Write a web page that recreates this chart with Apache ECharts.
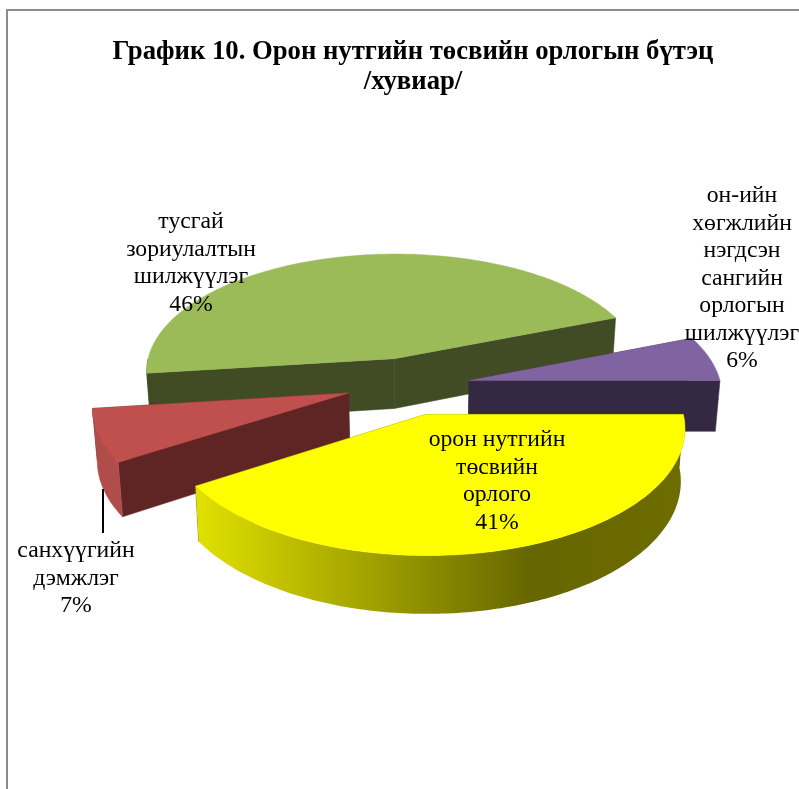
<!DOCTYPE html>
<html>
<head>
<meta charset="utf-8">
<style>html,body{margin:0;padding:0;background:#fff}#c{width:799px;height:789px}</style>
<script src="https://cdn.jsdelivr.net/npm/echarts@6/dist/echarts.min.js"></script>
</head>
<body>
<div id="c"></div>
<script>
// Data
const titleText = 'График 10. Орон нутгийн төсвийн орлогын бүтэц\n/хувиар/';
const categories = [
  'орон нутгийн\nтөсвийн\nорлого',
  'санхүүгийн\nдэмжлэг',
  'тусгай\nзориулалтын\nшилжүүлэг',
  'он-ийн\nхөгжлийн\nнэгдсэн\nсангийн\nорлогын\nшилжүүлэг'
];
const values = [41, 7, 46, 6];

// Styles
const topColors = ['#FFFF00', '#C0504D', '#9BBB59', '#8064A2'];
const faceColors = ['#666600', '#5F2525', '#414B24', '#352842'];
const wallColors = ['#666600', '#B04C49', '#414B24', '#352842'];
// Layout
const drawOrder = [2, 3, 1, 0];
const labelAnchors = [[497, 440], [76, 551], [191, 222], [742, 196]];
const sliceNudges = [[-1, 0], [-3, -3], [0, 0], [1, 0]];
const CX = 409, CY = 386, RX = 252, RY = 120.5, K = 0.102, EXPLODE = 0.24, DEPTH = 51;
const LINE_H = 27.5;

const total = values.reduce((a, b) => a + b, 0);
function project(u, v) {
  const f = 1 / (1 - K * v);
  return { x: CX + RX * u * f, y: CY + RY * v * f, f };
}
function down(p) {
  return [CX + (p.x - CX) * 0.985, p.y + DEPTH * p.f];
}
function renderSlice(params, api) {
  const idx = api.value(0);
  let startDeg = 0;
  for (let i = 0; i < idx; i++) startDeg += values[i] / total * 360;
  const endDeg = startDeg + api.value(1) / total * 360;
  const mid = (startDeg + endDeg) / 2 * Math.PI / 180;
  const ox = EXPLODE * Math.cos(mid), oy = EXPLODE * Math.sin(mid);
  const nudge = sliceNudges[idx];
  const shifted = p => ({ x: p.x + nudge[0], y: p.y + nudge[1], f: p.f });
  const apex = shifted(project(ox, oy));
  const pt = d => {
    const t = d * Math.PI / 180;
    return shifted(project(ox + Math.cos(t), oy + Math.sin(t)));
  };
  const arc = [];
  const steps = Math.ceil(endDeg - startDeg);
  for (let i = 0; i <= steps; i++) arc.push(startDeg + (endDeg - startDeg) * i / steps);

  const poly = (points, fill) => ({
    type: 'polygon',
    shape: { points },
    style: { fill, stroke: typeof fill === 'string' ? fill : null, lineWidth: 0.5 }
  });
  const children = [];
  const xy = p => [p.x, p.y];
  // radial faces
  [startDeg, endDeg].forEach(d => {
    const p = pt(d);
    children.push(poly([xy(apex), xy(p), down(p), down(apex)], faceColors[idx]));
  });
  // visible outer wall (front half only)
  const front = arc.filter(d => Math.sin(d * Math.PI / 180) > -0.001);
  if (front.length > 1) {
    const pts = front.map(pt);
    const wall = pts.map(xy).concat(pts.slice().reverse().map(down));
    let fill = wallColors[idx];
    if (idx === 0) {
      fill = new echarts.graphic.LinearGradient(193, 0, 683, 0, [
        { offset: 0, color: '#E2E200' },
        { offset: 0.69, color: '#666600' },
        { offset: 1, color: '#6C6C00' }
      ], true);
    }
    children.push(poly(wall, fill));
  }
  // top surface
  children.push(poly([xy(apex)].concat(arc.map(d => xy(pt(d)))), topColors[idx]));
  // leader line
  if (idx === 1) {
    children.push({
      type: 'line',
      shape: { x1: 103, y1: 489, x2: 103, y2: 533 },
      style: { stroke: '#000', lineWidth: 2 }
    });
  }
  // label
  const lines = categories[idx].split('\n').concat([api.value(1) + '%']);
  lines.forEach((s, i) => {
    children.push({
      type: 'text',
      style: {
        text: s,
        x: labelAnchors[idx][0],
        y: labelAnchors[idx][1] + i * LINE_H,
        align: 'center',
        verticalAlign: 'middle',
        fill: '#000',
        font: '23.7px "Liberation Serif"'
      }
    });
  });
  return { type: 'group', children };
}

const chart = echarts.init(document.getElementById('c'), null, { renderer: 'canvas' });
chart.setOption({
  animation: false,
  backgroundColor: '#fff',
  title: {
    text: titleText,
    left: 408,
    top: 32,
    textAlign: 'center',
    textStyle: {
      fontFamily: 'Liberation Serif',
      fontWeight: 'bold',
      fontSize: 26.7,
      lineHeight: 30,
      color: '#000'
    }
  },
  graphic: [{
    type: 'rect',
    silent: true,
    shape: { x: 7, y: 10, width: 900, height: 900 },
    style: { fill: 'none', stroke: '#8C8C8C', lineWidth: 2 }
  }],
  series: [{
    type: 'custom',
    coordinateSystem: 'none',
    renderItem: renderSlice,
    data: drawOrder.map(i => [i, values[i]])
  }]
});
</script>
</body>
</html>
